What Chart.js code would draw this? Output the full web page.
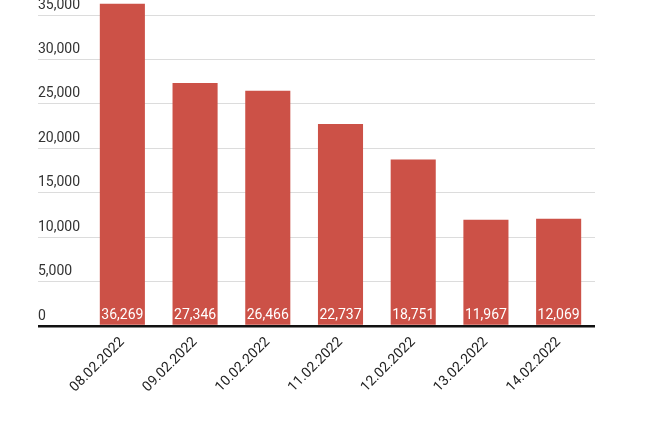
<!DOCTYPE html>
<html>
<head>
<meta charset="utf-8">
<script src="https://cdn.jsdelivr.net/npm/chart.js@4/dist/chart.umd.min.js"></script>
<style>
  html, body { margin: 0; padding: 0; background: #fff; }
  #wrap { width: 670px; height: 447px; }
</style>
</head>
<body>
<div id="wrap"><canvas id="chart" width="670" height="447"></canvas></div>
<script>
// ==============================
// Data
// ==============================
const dates = ["08.02.2022", "09.02.2022", "10.02.2022", "11.02.2022", "12.02.2022", "13.02.2022", "14.02.2022"];
const cases = [36269, 27346, 26466, 22737, 18751, 11967, 12069];

const barColor = "#cc5147";

// ==============================
// Value labels inside bars
// ==============================
const barLabels = {
    id: "barLabels",
    afterDatasetsDraw(chart) {
        const ctx = chart.ctx;
        const meta = chart.getDatasetMeta(0);
        ctx.save();
        ctx.fillStyle = "#ffffff";
        ctx.font = "14px Roboto";
        ctx.textAlign = "center";
        ctx.textBaseline = "middle";
        meta.data.forEach(function (bar, i) {
            ctx.fillText(cases[i].toLocaleString("en-US"), bar.x, bar.base - 9);
        });
        ctx.restore();
    }
};

// ==============================
// Create Chart
// ==============================
const chart = new Chart(document.getElementById("chart"), {
    type: "bar",
    data: {
        labels: dates,
        datasets: [{
            data: cases,
            backgroundColor: barColor,
            categoryPercentage: 1,
            barPercentage: 0.62,
            clip: false
        }]
    },
    options: {
        responsive: false,
        animation: false,
        layout: { padding: { left: 38, right: 75, top: 15, bottom: 0 } },
        plugins: {
            legend: { display: false },
            tooltip: { enabled: false }
        },
        scales: {
            x: {
                grid: { display: false, drawTicks: false },
                border: { display: false },
                ticks: {
                    color: "#222",
                    font: { family: "Roboto", size: 14 },
                    minRotation: 45,
                    maxRotation: 45,
                    padding: 8
                },
                afterFit(scale) {
                    scale.height = 121;
                    scale.paddingLeft = 0;
                    scale.paddingRight = 0;
                }
            },
            y: {
                min: 0,
                max: 35000,
                ticks: {
                    stepSize: 5000,
                    color: "#333",
                    font: { family: "Roboto", size: 14 },
                    crossAlign: "far",
                    labelOffset: -10,
                    callback: function (v) { return v.toLocaleString("en-US"); }
                },
                grid: {
                    color: function (c) { return c.tick && c.tick.value === 0 ? "#111" : "#dcdcdc"; },
                    tickColor: function (c) { return c.tick && c.tick.value === 0 ? "#111" : "#dcdcdc"; },
                    lineWidth: function (c) { return c.tick && c.tick.value === 0 ? 2.5 : 1; },
                    tickLength: 48
                },
                border: { display: false },
                afterFit(scale) {
                    scale.width = 48;
                    scale.paddingTop = 0;
                    scale.paddingBottom = 0;
                }
            }
        }
    },
    plugins: [barLabels]
});
</script>
</body>
</html>
